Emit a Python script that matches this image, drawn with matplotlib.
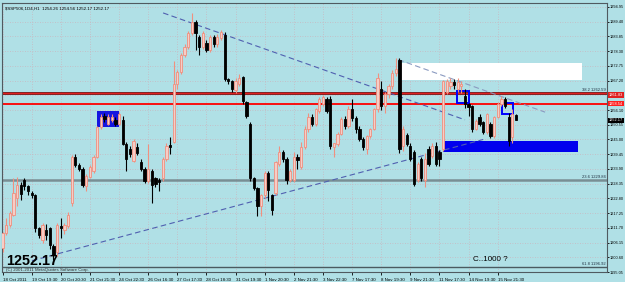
import matplotlib
matplotlib.use('Agg')
import matplotlib.pyplot as plt
from matplotlib.patches import Rectangle

# H1 candles (prices)
opens = [1204.1, 1209.6, 1212.7, 1216.4, 1222.8, 1227.7, 1229.6, 1227.3, 1225.0, 1223.9,
         1211.5, 1207.0, 1211.0, 1211.5, 1205.0, 1202.5, 1212.5, 1210.8, 1212.3, 1220.9,
         1238.5, 1235.2, 1234.0, 1227.3, 1231.0, 1233.3, 1238.5, 1249.7, 1253.8, 1251.0,
         1252.3, 1252.5, 1251.0, 1252.5, 1243.4, 1241.5, 1237.0, 1242.0, 1236.6, 1234.0,
         1229.2, 1233.3, 1230.3, 1229.9, 1230.3, 1237.8, 1243.0, 1244.1, 1265.8, 1270.3,
         1277.0, 1280.0, 1285.2, 1289.3, 1283.7, 1280.0, 1281.5, 1278.9, 1283.7, 1280.8,
         1283.3, 1284.5, 1267.7, 1266.9, 1263.5, 1265.8, 1268.4, 1259.1, 1250.9, 1230.3,
         1226.6, 1219.8, 1223.9, 1232.2, 1223.9, 1224.7, 1235.9, 1240.4, 1237.8, 1229.6,
         1229.6, 1238.3, 1234.8, 1242.3, 1249.0, 1253.5, 1250.9, 1255.7, 1258.3, 1260.2,
         1260.2, 1242.1, 1243.4, 1247.1, 1252.7, 1250.0, 1256.4, 1253.0, 1249.0, 1245.2,
         1241.5, 1246.3, 1249.0, 1256.4, 1264.0, 1257.5, 1262.0, 1265.0, 1270.0, 1275.1,
         1242.6, 1246.5, 1242.6, 1240.4, 1229.6, 1237.8, 1229.6, 1241.5, 1238.8, 1242.6,
         1240.4, 1241.5, 1262.8, 1265.0, 1266.5, 1263.9, 1265.0, 1261.3, 1258.3, 1257.5,
         1249.0, 1253.5, 1251.5, 1247.8, 1250.9, 1246.4, 1253.5, 1258.3, 1260.2, 1253.5,
         1246.0, 1254.26]
highs = [1210.0, 1215.3, 1218.0, 1230.3, 1230.7, 1229.0, 1230.3, 1228.0, 1225.5, 1224.5,
         1212.0, 1213.5, 1213.0, 1212.0, 1205.5, 1213.4, 1215.3, 1213.5, 1217.5, 1239.0,
         1239.6, 1236.0, 1234.5, 1232.0, 1235.5, 1239.0, 1250.0, 1254.6, 1255.0, 1254.5,
         1254.5, 1253.5, 1255.5, 1254.0, 1244.0, 1242.5, 1245.0, 1243.5, 1237.5, 1234.5,
         1243.4, 1234.0, 1231.0, 1230.5, 1238.5, 1243.5, 1246.0, 1274.4, 1271.0, 1277.5,
         1281.0, 1286.0, 1292.7, 1290.0, 1284.5, 1286.0, 1282.5, 1284.5, 1284.5, 1284.8,
         1286.4, 1285.5, 1268.0, 1267.5, 1268.0, 1269.5, 1269.0, 1259.5, 1251.5, 1231.0,
         1227.0, 1224.5, 1233.0, 1233.0, 1224.5, 1237.0, 1242.6, 1241.0, 1238.5, 1234.0,
         1240.4, 1239.6, 1244.0, 1250.0, 1255.0, 1254.5, 1257.0, 1261.0, 1261.7, 1261.0,
         1261.3, 1243.5, 1248.0, 1253.5, 1254.0, 1257.5, 1260.2, 1254.0, 1250.0, 1246.0,
         1246.5, 1249.5, 1257.0, 1270.0, 1267.0, 1263.0, 1266.0, 1271.0, 1275.8, 1275.8,
         1250.0, 1247.5, 1243.5, 1241.0, 1236.5, 1238.5, 1240.0, 1242.5, 1243.5, 1244.0,
         1241.0, 1267.5, 1267.7, 1268.0, 1267.7, 1268.0, 1267.0, 1264.0, 1258.7, 1258.0,
         1252.7, 1254.5, 1252.0, 1255.0, 1251.5, 1254.0, 1259.0, 1261.3, 1261.0, 1255.0,
         1256.4, 1254.56]
lows = [1202.5, 1209.0, 1212.0, 1216.0, 1219.8, 1222.0, 1226.0, 1224.0, 1223.0, 1210.0,
        1207.8, 1206.0, 1207.0, 1203.7, 1199.5, 1201.0, 1207.8, 1209.5, 1211.5, 1220.0,
        1234.5, 1233.0, 1227.0, 1225.5, 1230.5, 1232.5, 1238.0, 1249.0, 1251.5, 1250.5,
        1251.5, 1250.0, 1250.5, 1243.0, 1233.3, 1238.5, 1236.5, 1239.0, 1233.0, 1228.5,
        1228.5, 1220.9, 1227.0, 1225.5, 1229.5, 1237.0, 1239.6, 1243.5, 1264.0, 1269.5,
        1276.0, 1279.0, 1284.5, 1278.9, 1277.0, 1279.0, 1278.0, 1278.0, 1280.0, 1280.0,
        1282.5, 1267.0, 1266.0, 1263.0, 1262.5, 1265.0, 1258.5, 1253.0, 1229.5, 1226.0,
        1216.0, 1216.0, 1223.0, 1221.7, 1216.4, 1224.0, 1235.0, 1236.5, 1228.4, 1229.0,
        1229.0, 1234.0, 1234.0, 1241.5, 1248.0, 1250.0, 1250.0, 1255.0, 1257.5, 1255.0,
        1241.5, 1238.5, 1242.5, 1246.5, 1249.0, 1249.5, 1252.0, 1247.5, 1244.5, 1241.0,
        1239.5, 1245.5, 1248.5, 1255.5, 1256.0, 1255.0, 1260.5, 1264.0, 1269.0, 1240.0,
        1240.5, 1242.5, 1237.0, 1227.5, 1229.0, 1229.5, 1227.0, 1235.0, 1238.0, 1235.0,
        1235.0, 1240.5, 1262.0, 1264.0, 1264.0, 1263.0, 1262.5, 1257.0, 1253.8, 1248.0,
        1248.5, 1250.0, 1247.0, 1247.0, 1245.5, 1245.5, 1253.0, 1257.5, 1257.0, 1242.5,
        1243.5, 1252.17]
closes = [1209.6, 1212.7, 1217.2, 1224.7, 1227.7, 1224.5, 1227.3, 1225.5, 1224.0, 1211.5,
          1208.9, 1212.7, 1209.0, 1205.2, 1201.5, 1212.7, 1211.5, 1212.7, 1216.4, 1238.5,
          1235.2, 1234.0, 1227.7, 1231.4, 1234.8, 1238.5, 1249.7, 1253.5, 1252.7, 1253.5,
          1253.5, 1251.0, 1254.6, 1243.4, 1237.8, 1239.6, 1244.5, 1240.0, 1234.0, 1229.2,
          1234.0, 1227.7, 1228.4, 1228.8, 1237.8, 1242.6, 1242.2, 1265.8, 1270.3, 1277.0,
          1280.0, 1285.2, 1289.3, 1285.2, 1280.0, 1285.2, 1278.9, 1283.7, 1280.8, 1283.7,
          1285.5, 1267.7, 1266.9, 1263.9, 1266.9, 1268.0, 1259.5, 1253.8, 1230.3, 1226.6,
          1219.8, 1223.9, 1232.2, 1225.8, 1218.3, 1236.6, 1240.4, 1237.8, 1229.6, 1233.0,
          1238.5, 1237.4, 1242.3, 1249.0, 1253.5, 1250.9, 1256.4, 1260.2, 1261.0, 1255.7,
          1242.6, 1243.6, 1247.1, 1252.7, 1250.0, 1256.4, 1253.0, 1249.0, 1245.2, 1242.2,
          1246.3, 1249.0, 1256.4, 1268.0, 1257.5, 1262.0, 1265.0, 1270.0, 1271.5, 1241.5,
          1249.0, 1243.4, 1237.8, 1228.4, 1235.9, 1230.3, 1237.8, 1235.9, 1242.6, 1235.9,
          1237.5, 1266.9, 1266.9, 1266.5, 1265.5, 1266.5, 1265.8, 1258.3, 1257.2, 1249.0,
          1252.0, 1250.9, 1247.8, 1254.6, 1246.4, 1253.5, 1258.3, 1260.2, 1257.5, 1244.5,
          1254.6, 1252.17]

time_labels = ['18 Oct 2011', '19 Oct 19:30', '20 Oct 20:30', '21 Oct 21:30', '24 Oct 22:30',
               '26 Oct 16:30', '27 Oct 17:30', '28 Oct 18:30', '31 Oct 19:30', '1 Nov 20:30',
               '2 Nov 21:30', '3 Nov 22:30', '7 Nov 17:30', '8 Nov 19:30', '9 Nov 21:30',
               '11 Nov 17:30', '14 Nov 19:30', '15 Nov 21:30']
price_ticks = [1294.95, 1289.40, 1283.85, 1278.30, 1272.75, 1267.20, 1261.65, 1256.10, 1250.55,
               1245.00, 1239.45, 1233.90, 1228.35, 1222.80, 1217.25, 1211.70, 1206.15, 1200.60,
               1195.05]

fib_levels = {'23.6': 1229.84, '38.2': 1262.59, '61.8': 1196.92}
red_line = 1258.54
red_tag = 1261.83

bg = '#b0e0e6'
bull = '#f0907f'
bull_fill = '#f6cdc6'
small = dict(family='Liberation Sans')

fig = plt.figure(figsize=(6.25, 2.82), dpi=100)
fig.patch.set_facecolor(bg)
ax = fig.add_axes([2/625, 1 - 272/282, 605/625, 269/282])
ax.set_facecolor(bg)

n = len(opens)
xs = list(range(n))

# grid
for k in range(len(time_labels)):
    ax.axvline(k * 8, color='#c9b6bf', lw=0.6, ls=(0, (1, 2)), zorder=0)
for p in price_ticks:
    ax.axhline(p, color='#c9b6bf', lw=0.6, ls=(0, (1, 2)), zorder=0)

# chart objects
ax.add_patch(Rectangle((109.2, 1267.3), 50, 6.7, facecolor='white', edgecolor='none', zorder=1))
ax.add_patch(Rectangle((121, 1240.4), 37.1, 4.1, facecolor='#0000ee', edgecolor='none', zorder=1))
ax.add_patch(Rectangle((26, 1249.7), 6.1, 6.0, facecolor='#1515e0', edgecolor='none', zorder=1))
ax.add_patch(Rectangle((124.9, 1258.7), 3.3, 4.5, facecolor='none', edgecolor='#0000ff', lw=1.4, zorder=4))
ax.add_patch(Rectangle((137.2, 1254.6), 3.0, 4.1, facecolor='none', edgecolor='#0000ff', lw=1.4, zorder=4))

ax.axhline(fib_levels['23.6'], color='#6c7a80', lw=1.8, alpha=0.8, zorder=2)
ax.axhline(fib_levels['61.8'], color='#4a5a60', lw=1.0, zorder=2)
ax.axhline(fib_levels['38.2'], color='#7a1010', lw=2.0, zorder=2)
ax.axhline(fib_levels['38.2'], color='#e02020', lw=0.8, zorder=2)
ax.axhline(red_line, color='#ff0000', lw=1.3, zorder=2)

# trendlines
ax.plot([44.1, 127], [1292.7, 1252.4], color='#5060b0', lw=0.8, ls=(0, (5, 3)), zorder=3)
ax.plot([8.1, 132], [1199.3, 1245.0], color='#5060b0', lw=0.8, ls=(0, (5, 3)), zorder=3)
ax.plot([108.7, 149], [1275.1, 1255.3], color='#8a9ac0', lw=0.8, ls=(0, (5, 3)), zorder=3)

# candles
for i in xs:
    o, h, l, c = opens[i], highs[i], lows[i], closes[i]
    up = c >= o
    col = bull if up else 'black'
    ax.vlines(i, l, h, color=col, lw=0.8, zorder=5)
    lo, hi = min(o, c), max(o, c)
    if hi - lo < 0.4:
        hi = lo + 0.4
    ax.bar(i, hi - lo, bottom=lo, width=0.62,
           color=bull_fill if up else 'black', edgecolor=col, lw=0.6, zorder=6)

ax.set_xlim(-0.14, 166.0)
ax.set_ylim(1195.9, 1296.44)

ax.set_xticks([k * 8 for k in range(len(time_labels))])
ax.set_xticklabels(time_labels, fontsize=3.2, ha='left', **small)
ax.tick_params(axis='x', length=2, width=0.6, pad=2)
ax.yaxis.tick_right()
ax.set_yticks(price_ticks)
# the 1261.65 label sits under the red price tag
ax.set_yticklabels(['' if p == 1261.65 else '%.2f' % p for p in price_ticks], fontsize=2.8, **small)
ax.tick_params(axis='y', length=1.5, width=0.6, pad=0.6)
for s in ax.spines.values():
    s.set_color('#505a60')
    s.set_linewidth(0.8)

# price tags on the right axis
def tag(p, fc):
    ax.text(1.003, p, '%.2f' % p, transform=ax.get_yaxis_transform(), fontsize=2.8,
            color='white', va='center', ha='left', family='Liberation Sans',
            bbox=dict(boxstyle='square,pad=0.2', fc=fc, ec='none'), zorder=10, clip_on=False)

tag(red_tag, '#e02020')
tag(red_line, '#ff2020')
tag(closes[-1], 'black')

# texts
ax.text(0.005, 0.988, '$SSP506,1D4,H1  1254.26 1254.56 1252.17 1252.17', transform=ax.transAxes,
        fontsize=3.2, va='top', ha='left', **small)
ax.text(0.006, 0.015, '1252.17', transform=ax.transAxes, fontsize=10.4, fontweight='bold',
        family='Liberation Sans', va='bottom', ha='left')
ax.text(0.006, 0.0, '(C) 2001-2011 MetaQuotes Software Corp.', transform=ax.transAxes,
        fontsize=3.2, va='bottom', ha='left', color='#303030', **small)
ax.text(129.3, 1198.3, 'C..1000 ?', fontsize=5.8, va='bottom', ha='left', **small)
for name, p in fib_levels.items():
    ax.text(165.6, p + 0.3, '%s %.2f' % (name, p), fontsize=3.0, va='bottom', ha='right',
            color='#203040', **small)

fig.savefig('out.png', dpi=100, facecolor=bg)
